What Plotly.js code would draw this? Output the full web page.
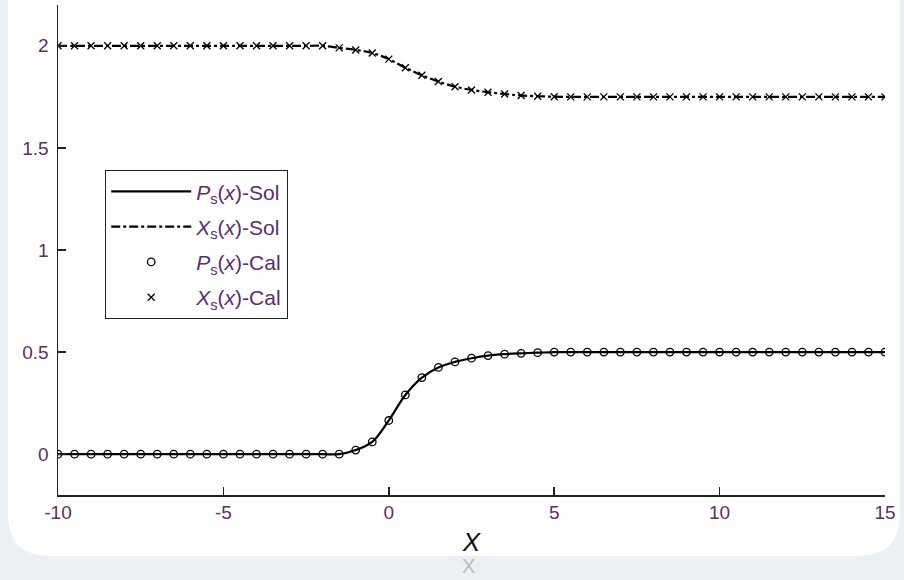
<!DOCTYPE html>
<html>
<head>
<meta charset="utf-8">
<script src="https://cdn.plot.ly/plotly-3.0.1.min.js"></script>
<style>html,body{margin:0;padding:0;background:#eaf0f4;}#chart{width:904px;height:580px;}</style>
</head>
<body>
<div id="chart"></div>
<script>
// ---- data ----
const xValues = [-10,-9.5,-9,-8.5,-8,-7.5,-7,-6.5,-6,-5.5,-5,-4.5,-4,-3.5,-3,-2.5,-2,-1.5,-1,-0.5,
  0,0.5,1,1.5,2,2.5,3,3.5,4,4.5,5,5.5,6,6.5,7,7.5,8,8.5,9,9.5,10,10.5,11,11.5,12,12.5,13,13.5,14,14.5,15];

const psCal = [0,0,0,0,0,0,0,0,0,0,0,0,0,0,0,0,0,0,0.02,0.06,
  0.165,0.29,0.375,0.425,0.452,0.47,0.483,0.49,0.494,0.497,0.5,0.5,0.5,0.5,0.5,0.5,0.5,0.5,0.5,0.5,0.5,0.5,0.5,0.5,0.5,0.5,0.5,0.5,0.5,0.5,0.5];
const psSol = [0,0,0,0,0,0,0,0,0,0,0,0,0,0,0,0,0,0,0.02,0.06,
  0.165,0.29,0.375,0.425,0.452,0.47,0.483,0.49,0.494,0.497,0.5,0.5,0.5,0.5,0.5,0.5,0.5,0.5,0.5,0.5,0.5,0.5,0.5,0.5,0.5,0.5,0.5,0.5,0.5,0.5,0.5];

const xsCal = [2,2,2,2,2,2,2,2,2,2,2,2,2,2,2,2,2,1.99,1.98,1.965,
  1.935,1.893,1.856,1.825,1.8,1.784,1.773,1.764,1.757,1.753,1.751,1.75,1.75,1.75,1.75,1.75,1.75,1.75,1.75,1.75,1.75,1.75,1.75,1.75,1.75,1.75,1.75,1.75,1.75,1.75,1.75];
const xsSol = [2,2,2,2,2,2,2,2,2,2,2,2,2,2,2,2,2,1.99,1.98,1.965,
  1.935,1.893,1.856,1.825,1.8,1.784,1.773,1.764,1.757,1.753,1.751,1.75,1.75,1.75,1.75,1.75,1.75,1.75,1.75,1.75,1.75,1.75,1.75,1.75,1.75,1.75,1.75,1.75,1.75,1.75,1.75];

const xTicks = [-10,-5,0,5,10,15];
const yTicks = [0,0.5,1,1.5,2];
const legendNames = [
  '<i>P</i><sub>s</sub>(<i>x</i>)-Sol',
  '<i>X</i><sub>s</sub>(<i>x</i>)-Sol',
  '<i>P</i><sub>s</sub>(<i>x</i>)-Cal',
  '<i>X</i><sub>s</sub>(<i>x</i>)-Cal'
];

// ---- layout helpers (pixel -> paper fractions) ----
const W = 904, H = 580;
const mL = 58, mR = 19, mT = 5, mB = 85;
const pw = W - mL - mR, ph = H - mT - mB;
const px = v => (v - mL) / pw;
const py = v => (H - mB - v) / ph;

function roundRect(x0, y0, x1, y1, r) {
  const P = (x, y) => px(x).toFixed(5) + ',' + py(y).toFixed(5);
  return 'M' + P(x0 + r, y0) + ' L' + P(x1 - r, y0) + ' Q' + P(x1, y0) + ' ' + P(x1, y0 + r) +
    ' L' + P(x1, y1 - r) + ' Q' + P(x1, y1) + ' ' + P(x1 - r, y1) +
    ' L' + P(x0 + r, y1) + ' Q' + P(x0, y1) + ' ' + P(x0, y1 - r) +
    ' L' + P(x0, y0 + r) + ' Q' + P(x0, y0) + ' ' + P(x0 + r, y0) + ' Z';
}

const labelColor = '#5e2c6c';
const fam = 'Liberation Sans, Arial, sans-serif';

const traces = [
  { x: xValues, y: psSol, type: 'scatter', mode: 'lines', name: legendNames[0], legendgroup: 'a',
    line: { color: '#000', width: 2.2, shape: 'spline' } },
  { x: xValues, y: xsSol, type: 'scatter', mode: 'lines', name: legendNames[1], legendgroup: 'b',
    line: { color: '#000', width: 2.2, dash: 'dashdot', shape: 'spline' } },
  { x: xValues, y: psCal, type: 'scatter', mode: 'markers', name: legendNames[2], legendgroup: 'c',
    marker: { symbol: 'circle-open', size: 7.5, color: '#000', line: { width: 1.3, color: '#000' } } },
  { x: xValues, y: xsCal, type: 'scatter', mode: 'markers', name: legendNames[3], legendgroup: 'd',
    marker: { symbol: 'x-thin-open', size: 7, color: '#000', line: { width: 1.3, color: '#000' } } }
];

const layout = {
  width: W, height: H,
  margin: { l: mL, r: mR, t: mT, b: mB, pad: 0 },
  paper_bgcolor: '#eaf0f4',
  plot_bgcolor: 'rgba(0,0,0,0)',
  font: { family: fam, size: 19, color: labelColor },
  showlegend: true,
  legend: {
    x: px(105), y: py(170), xanchor: 'left', yanchor: 'top',
    bgcolor: '#fff', bordercolor: '#222', borderwidth: 1.2,
    font: { family: fam, size: 21, color: labelColor },
    tracegroupgap: 5, itemwidth: 80, traceorder: 'grouped'
  },
  xaxis: {
    range: [-10, 15], tickvals: xTicks, ticktext: xTicks.map(String),
    ticks: 'inside', ticklen: 8, tickwidth: 1.5, tickcolor: '#222',
    showline: true, linecolor: '#222', linewidth: 1.5,
    showgrid: false, zeroline: false, mirror: false,
    tickfont: { family: fam, size: 19, color: labelColor },
    title: { text: '<i>X</i>', font: { family: fam, size: 26, color: '#111' }, standoff: 10 }
  },
  yaxis: {
    range: [-0.2, 2.2], tickvals: yTicks, ticktext: yTicks.map(String),
    ticks: 'inside', ticklen: 8, tickwidth: 1.5, tickcolor: '#222',
    showline: true, linecolor: '#222', linewidth: 1.5,
    showgrid: false, zeroline: false, mirror: false,
    tickfont: { family: fam, size: 19, color: labelColor },
    ticklabelstandoff: 4
  },
  shapes: [
    { type: 'path', xref: 'paper', yref: 'paper', layer: 'below',
      path: roundRect(8, -40, 900, 556, 42), fillcolor: '#ffffff', line: { width: 0 } }
  ],
  annotations: [
    { xref: 'paper', yref: 'paper', x: px(468), y: py(566), xanchor: 'center', yanchor: 'middle',
      text: 'X', showarrow: false,
      font: { size: 20, color: '#b8bcc0', family: fam } }
  ]
};

Plotly.newPlot('chart', traces, layout, { displayModeBar: false, staticPlot: true });
</script>
</body>
</html>
